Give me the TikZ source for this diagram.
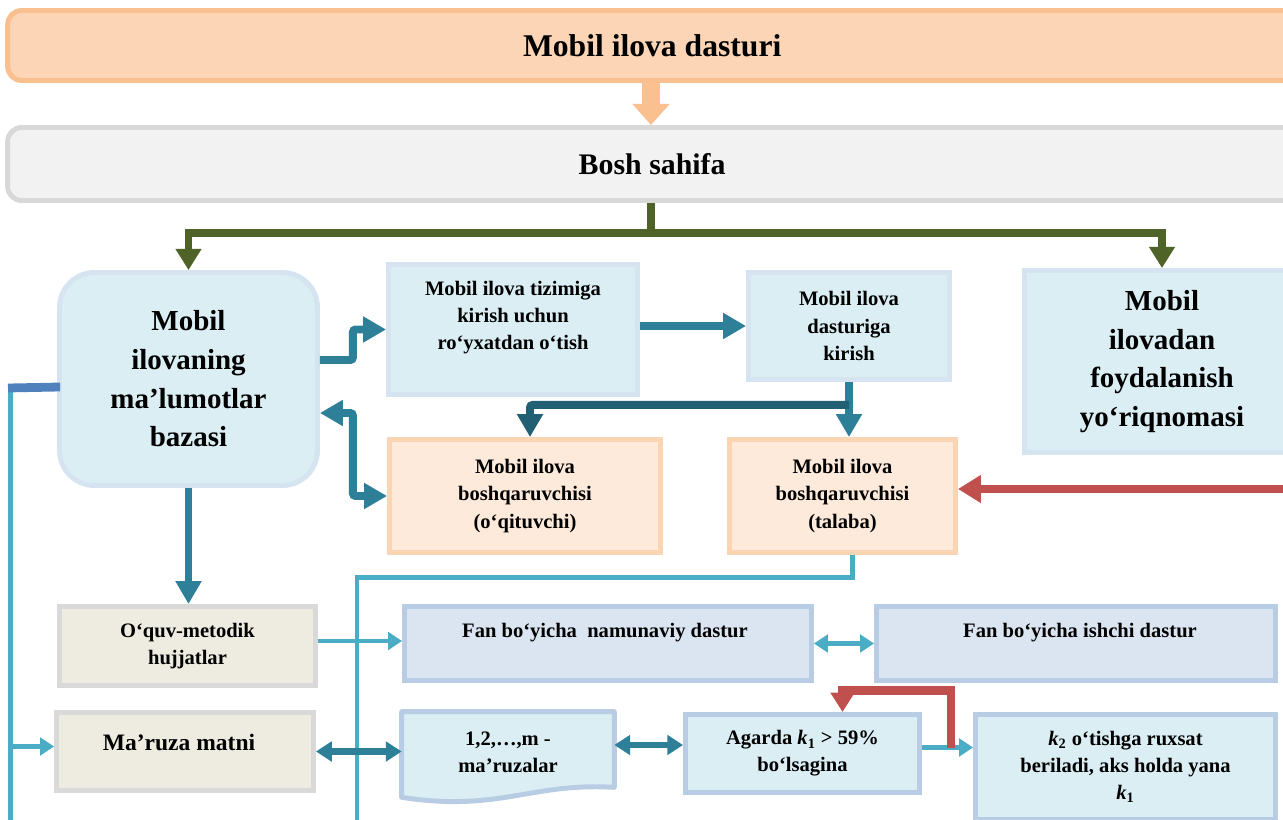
\documentclass[tikz,border=0pt]{standalone}
\usepackage{fontspec}
\setmainfont{Liberation Serif}
\usepackage{tikz}
\usetikzlibrary{arrows.meta, calc}

\definecolor{titlefill}{RGB}{251,213,181}
\definecolor{titleline}{RGB}{249,191,143}
\definecolor{homefill}{RGB}{242,242,242}
\definecolor{homeline}{RGB}{216,216,216}
\definecolor{skyfill}{RGB}{218,238,243}
\definecolor{skyline}{RGB}{214,227,240}
\definecolor{orangefill}{RGB}{253,234,218}
\definecolor{orangeline}{RGB}{251,212,180}
\definecolor{beigefill}{RGB}{238,236,225}
\definecolor{greyline}{RGB}{217,217,217}
\definecolor{steelfill}{RGB}{219,229,241}
\definecolor{steelline}{RGB}{184,204,228}
\definecolor{peachc}{RGB}{250,192,144}
\definecolor{olive}{RGB}{79,98,40}
\definecolor{tealc}{RGB}{46,128,153}
\definecolor{tealdark}{RGB}{33,95,115}
\definecolor{aqua}{RGB}{75,172,198}
\definecolor{brick}{RGB}{192,80,77}
\definecolor{barblue}{RGB}{79,129,189}

\begin{document}
\begin{tikzpicture}[x=0.02cm, y=-0.02cm,
    box/.style={rectangle, line width=2.8pt, align=center, inner sep=2pt, font=\bfseries\fontsize{11.7}{15.4}\selectfont},
    bigtext/.style={font=\bfseries\fontsize{16.5}{22}\selectfont},
    skyblock/.style={box, draw=skyline, fill=skyfill},
    orangeblock/.style={box, draw=orangeline, fill=orangefill},
    beigeblock/.style={box, draw=greyline, fill=beigefill},
    steelblock/.style={box, draw=steelline, fill=steelfill},
    condblock/.style={box, draw=steelline, fill=skyfill},
    txt/.style={align=center, inner sep=0pt, font=\bfseries\fontsize{11.7}{15.4}\selectfont},
    peachflow/.style={draw=peachc, line width=10pt, -{Triangle[width=20.5pt,length=12pt]}},
    greenflow/.style={draw=olive, line width=4.5pt, -{Triangle[width=14pt,length=12pt]}},
    flow/.style={draw=tealc, line width=4.5pt, rounded corners=1.5pt, -{Triangle[width=14pt,length=13pt]}},
    twoway/.style={flow, {Triangle[width=14pt,length=13pt]}-{Triangle[width=14pt,length=13pt]}},
    tealtwoway/.style={draw=tealc, line width=3.8pt, {Triangle[width=11pt,length=9pt]}-{Triangle[width=11pt,length=9pt]}},
    aqualine/.style={draw=aqua, line width=2.8pt},
    aquaflow/.style={aqualine, -{Triangle[width=10pt,length=8pt]}},
    aquatwoway/.style={aqualine, {Triangle[width=10pt,length=8pt]}-{Triangle[width=10pt,length=8pt]}},
    barline/.style={draw=barblue, line width=5pt},
    redflow/.style={draw=brick, line width=4.5pt, -{Triangle[width=15pt,length=13pt]}},
    redturn/.style={draw=brick, line width=5pt, -{Triangle[width=13pt,length=11pt]}}
]

\fill[white] (0,0) rectangle (1283,820);
\useasboundingbox (0,0) rectangle (1283,820);

% Top bars
\node[box, draw=titleline, fill=titlefill, rounded corners=8pt, minimum width=28cm, minimum height=1.4cm, font=\bfseries\fontsize{18}{22}\selectfont] (title) at (707.5,45.5) {\hspace*{-63pt}Mobil ilova dasturi};
\node[box, draw=homeline, fill=homefill, rounded corners=8pt, minimum width=28cm, minimum height=1.46cm, font=\bfseries\fontsize{17}{20}\selectfont] (home) at (707.5,164) {\hspace*{-63pt}Bosh sahifa};

% Second row
\node[skyblock, bigtext, rounded corners=0.7cm, minimum width=5.16cm, minimum height=4.26cm] (dbase) at (188.5,379) {Mobil\\ilovaning\\ma’lumotlar\\bazasi};
\node[skyblock, minimum width=4.98cm, minimum height=2.6cm] (register) at (513,329.5) {};
\node[txt] (register txt) at (513,318) {Mobil ilova tizimiga\\kirish uchun\\ro‘yxatdan o‘tish};
\node[skyblock, minimum width=7cm, minimum height=3.64cm] (guide) at (1199,361.5) {};
\node[txt, bigtext] (guide txt) at (1162,361.5) {Mobil\\ilovadan\\foydalanish\\yo‘riqnomasi};
\node[skyblock, minimum width=4.02cm, minimum height=2.14cm] (enter) at (849,326) {Mobil ilova\\dasturiga\\kirish};

% Managers
\node[orangeblock, minimum width=5.42cm, minimum height=2.26cm] (teacher) at (525,496) {Mobil ilova\\boshqaruvchisi\\(o‘qituvchi)};
\node[orangeblock, minimum width=4.52cm, minimum height=2.26cm] (student) at (842.5,496) {Mobil ilova\\boshqaruvchisi\\(talaba)};

% Materials
\node[beigeblock, minimum width=5.12cm, minimum height=1.58cm] (docs) at (187.5,646) {O‘quv-metodik\\hujjatlar};
\node[beigeblock, minimum width=5.14cm, minimum height=1.56cm] (lecture) at (185,751.5) {};
\node[txt, font=\bfseries\fontsize{13.4}{16}\selectfont] (lecture txt) at (179,742) {Ma’ruza matni};
\node[steelblock, minimum width=8.14cm, minimum height=1.48cm] (sample) at (608,643.5) {};
\node[txt] (sample txt) at (605,633) {Fan bo‘yicha~ namunaviy dastur};
\node[steelblock, minimum width=7.98cm, minimum height=1.48cm] (workprog) at (1076,643.5) {};
\node[txt] (workprog txt) at (1080,633) {Fan bo‘yicha ishchi dastur};

% Lectures sheet
\node[minimum width=4.24cm, minimum height=1.6cm] (lectures) at (508,752) {};
\draw[line width=2.8pt, draw=steelline, fill=skyfill, line join=round] (lectures.north west) -- (lectures.north east) -- ($(lectures.south east)+(0,-5)$) .. controls ($(lectures.south)+(22,-10)$) and ($(lectures.south)+(-8,20)$) .. ($(lectures.south west)+(0,5)$) -- cycle;
\node[txt] (lectures txt) at (lectures) {1,2,…,m -\\ma’ruzalar};

\node[condblock, minimum width=4.68cm, minimum height=1.56cm] (cond) at (802.5,753.5) {Agarda \textit{k}\textsubscript{1} > 59\%\\bo‘lsagina};
\node[condblock, minimum width=6cm, minimum height=2.1cm] (pass) at (1125.5,767) {\textit{k}\textsubscript{2} o‘tishga ruxsat\\beriladi, aks holda yana\\\textit{k}\textsubscript{1}};

% Main arrows
\coordinate (mid) at (651,0);
\draw[peachflow] (mid |- title.south) -- (mid |- home.north);
\draw[greenflow] (mid |- home.south) coordinate (gtop) -- ++(0,30) -| (dbase.north);
\draw[greenflow] (gtop) ++(0,30) -| (guide txt.north |- guide.north);

\draw[flow] ($(dbase.east)+(0,-19)$) -- ++(33,0) |- (register.west);
\draw[flow] (register.east |- enter.west) -- (enter.west);
\draw[flow] (enter.south) -- (enter.south |- student.north);
\draw[flow, draw=tealdark] ($(enter.south)+(0,23)$) -| ($(teacher.north)+(5,0)$);
\draw[twoway] ($(dbase.east)+(0,34)$) -- ++(33,0) |- (teacher.west);
\draw[flow] (dbase.south) -- (dbase.south |- docs.north);

\coordinate (redin) at (1290,489);
\draw[redflow] (redin) -- (redin -| student.east);

% Thin links
\coordinate (midbot) at (357,830);
\draw[aqualine] ($(student.south)+(10,0)$) -- ++(0,23) -| (midbot);
\coordinate (lcorner) at (10.5,388);
\coordinate (leftbot) at (10.5,830);
\draw[aqualine] (lcorner) -- (leftbot);
\draw[barline] ($(dbase.west)+(3,8)$) -- ($(lcorner)+(-2.5,0)$);
\coordinate (lecin) at ($(lecture.west)+(0,-5)$);
\draw[aquaflow] (lcorner |- lecin) -- (lecin);

\draw[aquaflow] ($(docs.east)+(0,-5)$) -- ($(docs.east -| sample.west)+(0,-5)$);
\draw[aquatwoway] (sample.east) -- (workprog.west);
\draw[tealtwoway] (lecture.east) -- (lecture.east -| lectures.west);
\draw[tealtwoway] ($(lectures.east)+(0,-7)$) -- ($(cond.west)+(0,-8.5)$);
\draw[aquaflow] ($(cond.east)+(0,-6)$) -- ($(cond.east -| pass.west)+(0,-6)$);
\coordinate (turn) at ($(cond.east)+(29,-6)$);
\draw[redturn] (turn) -- ++(0,-57) -| ($(cond.north)+(40,0)$);

\end{tikzpicture}
\end{document}
